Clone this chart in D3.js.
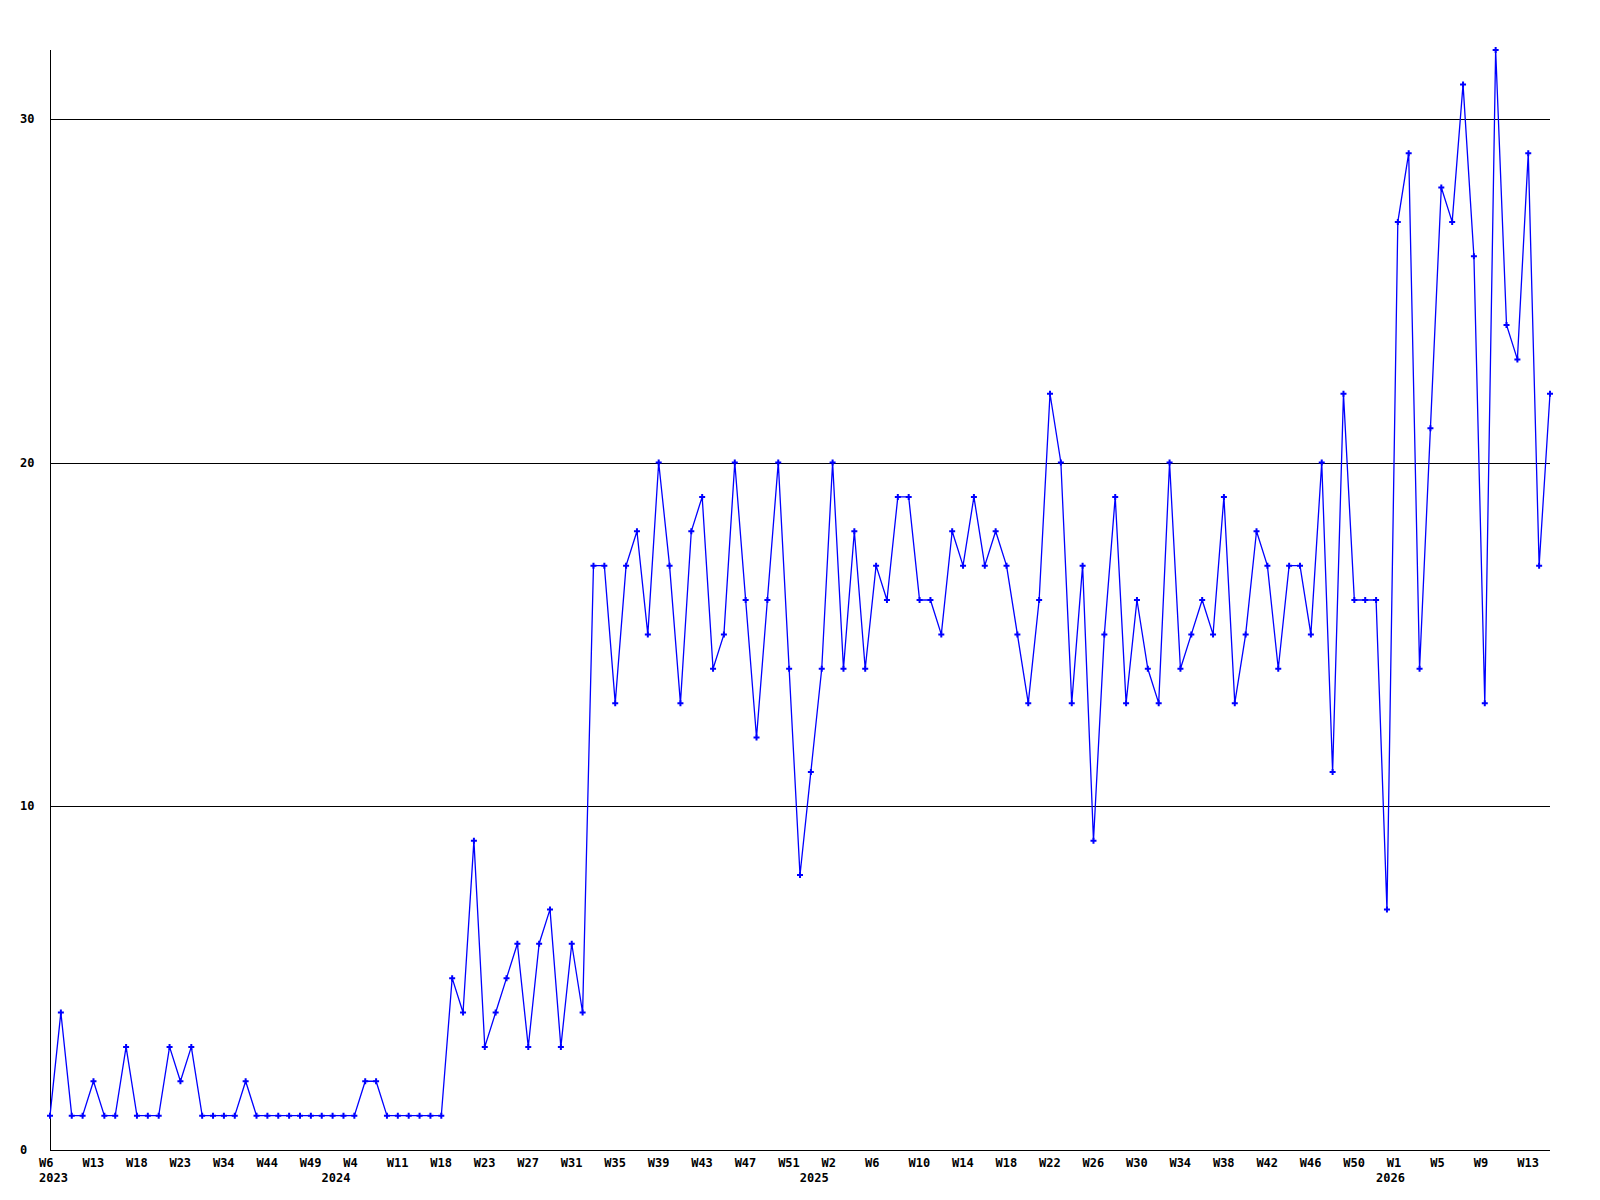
<!DOCTYPE html>
<html><head><meta charset="utf-8">
<script src="https://cdn.jsdelivr.net/npm/d3@7"></script>
<style>
body{margin:0;background:#fff}
svg{display:block}
text{font-family:"DejaVu Sans Mono",monospace;font-weight:bold;font-size:12px;fill:#000}
</style>
</head><body><svg id="c" width="1600" height="1200"></svg>
<script>
// week numbers present in the data, per year (Sunday-based week numbering)
const weeks2023=[6,7,9,11,13,14,15,16,18,19,20,22,23,25,28,31,34,36,39,41,44,45,46,47,49,51];
const weeks2024=[0,2,4,6,7,9,11,13,15,16,18,19,20,22,23,24,25,26,27,28,29,30,31,32,33,34,35,36,37,38,39,40,41,42,43,44,45,46,47,48,49,50,51,52];
const weeks2025=[0,1,2,3,4,5,6,7,8,9,10,11,12,13,14,15,16,17,18,19,20,21,22,23,24,25,26,27,28,29,30,31,32,33,34,35,36,37,38,39,40,41,42,43,44,45,46,47,48,49,50,51,52];
const weeks2026=[0,1,2,3,4,5,6,7,8,9,10,11,12,13,14,15];
const years=[2023,2024,2025,2026];
const values=[1,4,1,1,2,1,1,3,1,1,1,3,2,3,1,1,1,1,2,1,1,1,1,1,1,1,1,1,1,2,2,1,1,1,1,1,1,
5,4,9,3,4,5,6,3,6,7,3,6,4,
17,17,13,17,18,15,20,17,13,18,19,14,15,20,16,12,16,20,14,8,11,
14,20,14,18,14,17,16,19,19,16,16,15,18,17,19,17,18,17,15,13,
16,22,20,13,17,9,15,19,13,16,14,13,20,14,15,16,15,19,13,
15,18,17,14,17,17,15,20,11,22,16,16,16,7,
27,29,14,21,28,27,31,26,13,32,24,23,29,17,22];
const yTicks=[0,10,20,30];
const yMax=32;

const weekLists=[weeks2023,weeks2024,weeks2025,weeks2026];
const cats=[];
years.forEach((y,k)=>weekLists[k].forEach(w=>cats.push({id:y+"-W"+w,year:y,week:w})));
const data=cats.map((c,i)=>({...c,v:values[i],i}));

const L=50,R=1550,T=50,B=1150;
const svg=d3.select("#c");
const x=d3.scalePoint().domain(cats.map(c=>c.id)).range([L,R]);
const y=d3.scaleLinear().domain([0,yMax]).range([B,T]);

// gridlines
svg.append("g").selectAll("line").data(yTicks.filter(t=>t>0)).join("line")
 .attr("x1",L).attr("x2",R).attr("y1",d=>Math.round(y(d))+0.5).attr("y2",d=>Math.round(y(d))+0.5)
 .attr("stroke","#000").attr("stroke-width",1).attr("shape-rendering","crispEdges");
// axes lines
svg.append("line").attr("x1",L).attr("x2",R).attr("y1",B+0.5).attr("y2",B+0.5)
 .attr("stroke","#000").attr("shape-rendering","crispEdges");
svg.append("line").attr("x1",L+0.5).attr("x2",L+0.5).attr("y1",T).attr("y2",B)
 .attr("stroke","#000").attr("shape-rendering","crispEdges");

// y labels
svg.append("g").selectAll("text").data(yTicks).join("text")
 .attr("x",20).attr("y",d=>y(d)+4).text(d=>d);

// x labels every 4th point
svg.append("g").selectAll("text").data(data.filter(d=>d.i%4===0)).join("text")
 .attr("x",d=>x(d.id)-11).attr("y",1167).text(d=>"W"+d.week);
// year labels at first point of each year
svg.append("g").selectAll("text").data(years.map(yr=>data.find(d=>d.year===yr))).join("text")
 .attr("x",d=>x(d.id)-11).attr("y",1182).text(d=>d.year);

// line
svg.append("path").datum(data)
 .attr("d",d3.line().x(d=>x(d.id)).y(d=>y(d.v)))
 .attr("fill","none").attr("stroke","#0000ff").attr("stroke-width",1.3);
// markers
svg.append("g").selectAll("path").data(data).join("path")
 .attr("transform",d=>`translate(${x(d.id)},${y(d.v)})`)
 .attr("d",d3.symbol(d3.symbolCross,20))
 .attr("fill","#0000ff");
</script>
</body></html>
